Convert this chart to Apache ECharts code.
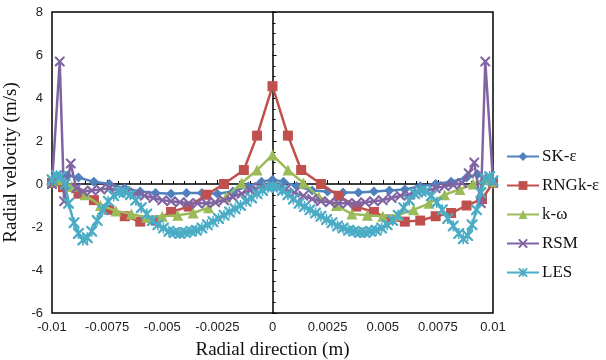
<!DOCTYPE html>
<html><head><meta charset="utf-8">
<script src="https://cdn.jsdelivr.net/npm/echarts@6/dist/echarts.min.js"></script>
<style>html,body{margin:0;padding:0;background:#fff}#c{width:606px;height:360px}</style>
</head><body><div id="c"></div>
<script>
const seriesNames = ['SK-ε', 'RNGk-ε', 'k-ω', 'RSM', 'LES'];
const xTicks = [-0.01, -0.0075, -0.005, -0.0025, 0, 0.0025, 0.005, 0.0075, 0.01];
const yTicks = [-6, -4, -2, 0, 2, 4, 6, 8];

const xSK = [-0.01,-0.0097,-0.0093,-0.0088,-0.0081,-0.0074,-0.0067,-0.006,-0.0053,-0.0046,-0.0039,-0.0032,-0.0025,-0.0018,-0.0011,-0.0005,0,0.0005,0.0011,0.0018,0.0025,0.0032,0.0039,0.0046,0.0053,0.006,0.0067,0.0074,0.0081,0.0088,0.0093,0.0097,0.01];
const ySK = [0.0,0.35,0.4,0.3,0.1,0.0,-0.2,-0.35,-0.42,-0.45,-0.42,-0.42,-0.45,-0.35,-0.1,0.1,0.2,0.1,-0.1,-0.3,-0.35,-0.4,-0.4,-0.35,-0.3,-0.25,-0.1,0.0,0.1,0.3,0.45,0.3,0.0];

const xRNG = [-0.01,-0.0095,-0.0088,-0.0081,-0.0074,-0.0067,-0.006,-0.0053,-0.0046,-0.0038,-0.003,-0.0022,-0.0013,-0.0007,0,0.0007,0.0013,0.0022,0.003,0.0038,0.0046,0.0053,0.006,0.0067,0.0074,0.0081,0.0088,0.0095,0.01];
const yRNG = [0.05,-0.15,-0.45,-0.75,-1.2,-1.5,-1.75,-1.7,-1.3,-1.05,-0.5,0.0,0.65,2.25,4.55,2.25,0.65,0.0,-0.55,-1.05,-1.3,-1.65,-1.75,-1.7,-1.5,-1.35,-1.0,-0.7,0.05];

const xKW = [-0.01,-0.0096,-0.0091,-0.0085,-0.0078,-0.0071,-0.0064,-0.0057,-0.005,-0.0043,-0.0036,-0.0029,-0.0021,-0.0014,-0.0007,0,0.0007,0.0014,0.0021,0.0029,0.0036,0.0043,0.005,0.0057,0.0064,0.0071,0.0078,0.0085,0.0091,0.0096,0.01];
const yKW = [0.1,0.2,-0.1,-0.5,-1.0,-1.25,-1.4,-1.55,-1.5,-1.45,-1.35,-1.1,-0.6,0.05,0.65,1.35,0.65,0.05,-0.6,-1.0,-1.4,-1.45,-1.5,-1.45,-1.2,-0.9,-0.5,-0.25,0.0,0.2,0.1];

const xRSM = [-0.01,-0.00965,-0.00945,-0.00915,-0.0089,-0.0086,-0.0082,-0.0078,-0.0074,-0.007,-0.0066,-0.0062,-0.0058,-0.0054,-0.005,-0.0046,-0.0042,-0.0038,-0.0034,-0.003,-0.0026,-0.0022,-0.0018,-0.0014,-0.001,-0.0006,-0.0003,0,0.0003,0.0006,0.001,0.0014,0.0018,0.0022,0.0026,0.003,0.0034,0.0038,0.0042,0.0046,0.005,0.0054,0.0058,0.0062,0.0066,0.007,0.0074,0.0078,0.0082,0.0086,0.0089,0.00915,0.00945,0.00965,0.01];
const yRSM = [0.0,5.7,-0.8,0.95,-0.2,-0.35,-0.3,-0.25,-0.2,-0.3,-0.4,-0.45,-0.55,-0.65,-0.75,-0.8,-0.85,-0.9,-0.9,-0.9,-0.85,-0.75,-0.6,-0.45,-0.3,-0.15,-0.1,-0.05,-0.1,-0.25,-0.4,-0.55,-0.7,-0.8,-0.85,-0.9,-0.9,-0.9,-0.85,-0.8,-0.75,-0.65,-0.55,-0.5,-0.4,-0.3,-0.2,-0.1,-0.05,0.05,0.5,1.0,-0.9,5.7,0.1];

const xLES = [-0.01,-0.0098,-0.0096,-0.0094,-0.00925,-0.009,-0.0088,-0.0086,-0.0084,-0.0082,-0.00795,-0.0077,-0.00745,-0.0072,-0.00695,-0.0067,-0.00645,-0.0062,-0.00595,-0.0057,-0.00545,-0.0052,-0.00495,-0.0047,-0.00445,-0.0042,-0.00395,-0.0037,-0.00345,-0.0032,-0.00295,-0.0027,-0.00245,-0.0022,-0.00195,-0.0017,-0.00145,-0.0012,-0.00095,-0.0007,-0.00045,-0.0002,0,0.0002,0.00045,0.0007,0.00095,0.0012,0.00145,0.0017,0.00195,0.0022,0.00245,0.0027,0.00295,0.0032,0.00345,0.0037,0.00395,0.0042,0.00445,0.0047,0.00495,0.0052,0.00545,0.0057,0.00595,0.0062,0.00645,0.0067,0.00695,0.0072,0.00745,0.0077,0.00795,0.0082,0.00845,0.00865,0.00885,0.00905,0.00925,0.00945,0.00965,0.00985,0.01];
const yLES = [0.2,0.4,0.35,0.0,-0.9,-1.8,-2.3,-2.6,-2.5,-2.2,-1.7,-1.2,-0.8,-0.55,-0.4,-0.35,-0.5,-0.75,-1.1,-1.4,-1.7,-1.9,-2.05,-2.2,-2.25,-2.3,-2.25,-2.2,-2.15,-2.05,-1.9,-1.75,-1.6,-1.45,-1.3,-1.15,-1.0,-0.8,-0.65,-0.45,-0.3,-0.15,-0.1,-0.15,-0.3,-0.5,-0.7,-0.9,-1.05,-1.2,-1.35,-1.5,-1.65,-1.8,-1.95,-2.05,-2.15,-2.2,-2.25,-2.25,-2.2,-2.15,-2.05,-1.9,-1.7,-1.45,-1.1,-0.75,-0.45,-0.3,-0.35,-0.55,-0.85,-1.2,-1.6,-1.95,-2.3,-2.55,-2.4,-1.9,-1.2,-0.4,0.25,0.35,0.15];

const colors = ['#4F81BD', '#C0504D', '#9BBB59', '#8064A2', '#4BACC6'];
const xMark = 'path://M0,0 L1.5,0 L5,3.5 L8.5,0 L10,0 L10,1.5 L6.5,5 L10,8.5 L10,10 L8.5,10 L5,6.5 L1.5,10 L0,10 L0,8.5 L3.5,5 L0,1.5 Z';
const starMark = xMark + ' M4.3,0 L5.7,0 L5.7,10 L4.3,10 Z';
const symbols = ['diamond', 'rect', 'triangle', xMark, starMark];
const sizes = [10, 10, 11, 10, 11];
const xs = [xSK, xRNG, xKW, xRSM, xLES];
const ys = [ySK, yRNG, yKW, yRSM, yLES];

function pairs(a, b) { return a.map((x, i) => [x, b[i]]); }

const chart = echarts.init(document.getElementById('c'), null, {renderer: 'canvas'});
const tickFont = {fontFamily: 'Liberation Sans', fontSize: 13, color: '#222'};
chart.setOption({
  animation: false,
  color: colors,
  grid: {left: 52, right: 113, top: 12, bottom: 47, containLabel: false, outerBoundsMode: 'none',
         show: true, borderColor: '#000', borderWidth: 1.5, backgroundColor: 'transparent'},
  legend: {
    orient: 'vertical', left: 501, top: 143, itemGap: 12, itemWidth: 32, itemHeight: 11,
    selectedMode: false,
    textStyle: {fontFamily: 'Liberation Serif', fontSize: 17, color: '#111', padding: [0, 0, 0, -2]},
    data: seriesNames
  },
  xAxis: {
    type: 'value', min: xTicks[0], max: xTicks[xTicks.length - 1], interval: 0.0025,
    name: 'Radial direction (m)', nameLocation: 'middle', nameGap: 28,
    nameTextStyle: {fontFamily: 'Liberation Serif', fontSize: 19, color: '#111'},
    axisLine: {lineStyle: {color: '#000', width: 1.5}},
    axisTick: {inside: true, length: 4, lineStyle: {color: '#000'}},
    minorTick: {show: true, splitNumber: 5, length: 3, lineStyle: {color: '#000'}},
    splitLine: {show: false},
    axisLabel: Object.assign({margin: 8, formatter: v => String(+v.toFixed(4))}, tickFont)
  },
  yAxis: {
    type: 'value', min: yTicks[0], max: yTicks[yTicks.length - 1], interval: 2,
    name: 'Radial velocity (m/s)', nameLocation: 'middle', nameGap: 22,
    nameTextStyle: {fontFamily: 'Liberation Serif', fontSize: 19, color: '#111'},
    axisLine: {lineStyle: {color: '#000', width: 1.5}},
    axisTick: {inside: true, length: 4, lineStyle: {color: '#000'}},
    minorTick: {show: true, splitNumber: 4, length: 3, lineStyle: {color: '#000'}},
    splitLine: {show: false},
    axisLabel: Object.assign({margin: 9}, tickFont)
  },
  series: seriesNames.map((n, i) => ({
    name: n, type: 'line', data: pairs(xs[i], ys[i]),
    symbol: symbols[i], symbolSize: sizes[i], showAllSymbol: true,
    lineStyle: {width: 2.5, color: colors[i]},
    itemStyle: {color: colors[i], borderColor: colors[i], borderWidth: 0},
    z: 2 + i
  }))
});
</script></body></html>
